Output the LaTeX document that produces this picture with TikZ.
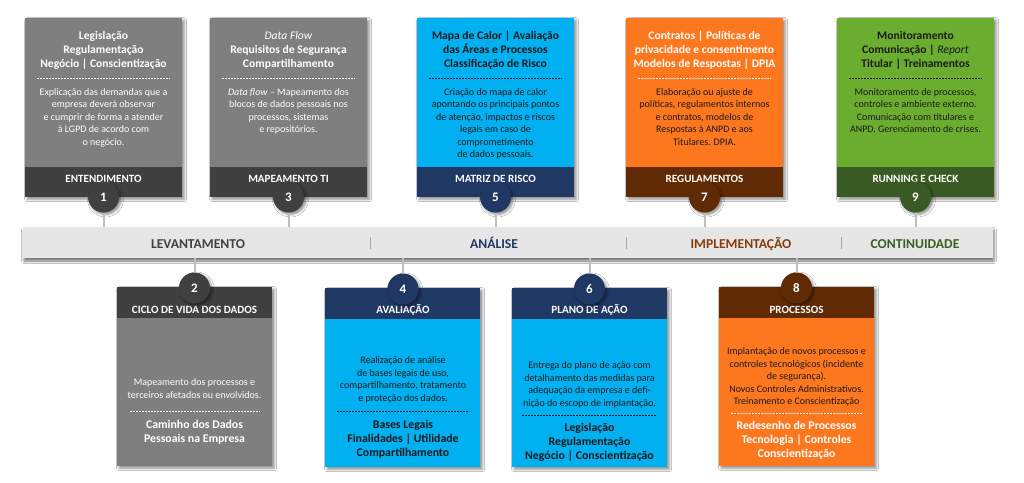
\documentclass[tikz,border=0pt]{standalone}
\usepackage{fontspec}
\setmainfont{Carlito}
\usetikzlibrary{shadows.blur}

\definecolor{greybody}{HTML}{7F7F7F}
\definecolor{greydark}{HTML}{404040}
\definecolor{bluebody}{HTML}{00B0F0}
\definecolor{navy}{HTML}{203864}
\definecolor{orangebody}{HTML}{FD771F}
\definecolor{brown}{HTML}{602A05}
\definecolor{greenbody}{HTML}{6BAD2E}
\definecolor{greendark}{HTML}{395A23}
\definecolor{barfill}{HTML}{E6E6E6}
\definecolor{darktext}{HTML}{1A1A1A}
\definecolor{phasebrown}{HTML}{843C0C}
\definecolor{phasegreen}{HTML}{3B5E24}

\tikzset{
  shade3/.style={blur shadow={shadow xshift=2pt, shadow yshift=-2pt,
      shadow blur radius=2.5pt, shadow opacity=45}},
  topcard/.style={anchor=north west, minimum width=157, minimum height=179,
      inner sep=0, shade3},
  botcard/.style={anchor=north west, minimum width=155, minimum height=179,
      inner sep=0, shade3},
  band/.style={inner sep=0, minimum height=30},
  num/.style={circle, minimum size=31, inner sep=0, text=white,
      font=\fontsize{13}{14}\bfseries, shade3},
  ttl/.style={anchor=north, align=center, inner sep=0,
      font=\fontsize{11.6}{14}\selectfont\bfseries},
  body/.style={anchor=north, align=center, inner sep=0,
      font=\fontsize{10}{12.5}\selectfont},
  btl/.style={anchor=north, align=center, inner sep=0,
      font=\fontsize{11.8}{14}\selectfont\bfseries},
  lbl/.style={anchor=base, inner sep=0, text=white,
      font=\fontsize{11.1}{12}\selectfont\bfseries},
  phase/.style={anchor=base, inner sep=0,
      font=\fontsize{13.6}{15}\selectfont\bfseries},
  sep/.style={line width=0.6pt, dash pattern=on 2pt off 1pt},
  conn/.style={draw=black!25, line width=2pt},
}

\begin{document}
\begin{tikzpicture}[x=1pt, y=-1pt]
\useasboundingbox[fill=white] (0,0) rectangle (1024,482);

% ---------- timeline bar ----------
\node[fill=barfill, minimum width=970, minimum height=31, inner sep=0,
      blur shadow={shadow xshift=1pt, shadow yshift=-3pt, shadow blur radius=2.5pt, shadow opacity=55}]
      (bar) at (508,242.5) {};
\node[phase, text=greydark]  (ph1) at (198,248) {LEVANTAMENTO};
\node[phase, text=navy]      (ph2) at (494,248) {ANÁLISE};
\node[phase, text=phasebrown] (ph3) at (741,248) {IMPLEMENTAÇÃO};
\node[phase, text=phasegreen] (ph4) at (915,248) {CONTINUIDADE};
\draw[black!35, line width=0.6pt] (370,237) -- (370,249);
\draw[black!35, line width=0.6pt] (626,237) -- (626,249);
\draw[black!35, line width=0.6pt] (841,237) -- (841,249);

% ---------- top cards ----------
% 1
\node[topcard, fill=greybody] (c1) at (25,18) {};
\node[band, fill=greydark, minimum width=157, anchor=south] (f1) at (c1.south) {};
\node[ttl, text=white] (t1) at (103.5,31) {Legislação\\Regulamentação\\Negócio | Conscientização};
\draw[sep, white] (37,78) -- (170,78);
\node[body, text=white] (b1) at (103.5,88) {Explicação das demandas que a\\empresa deverá observar\\e cumprir de forma a atender\\à LGPD de acordo com\\o negócio.};
\node[lbl] (l1) at (103.5,182) {ENTENDIMENTO};
\node[num, fill=greydark] (n1) at (103.5,197) {1};

% 3
\node[topcard, fill=greybody] (c3) at (210,18) {};
\node[band, fill=greydark, minimum width=157, anchor=south] (f3) at (c3.south) {};
\node[ttl, text=white] (t3) at (288.5,31) {\textit{\mdseries Data Flow}\\Requisitos de Segurança\\Compartilhamento};
\draw[sep, white] (222,78) -- (355,78);
\node[body, text=white] (b3) at (288.5,88) {\textit{Data flow} – Mapeamento dos\\blocos de dados pessoais nos\\processos, sistemas\\e repositórios.};
\node[lbl] (l3) at (288.5,182) {MAPEAMENTO TI};
\node[num, fill=greydark] (n3) at (288.5,197) {3};

% 5
\node[topcard, fill=bluebody] (c5) at (417,18) {};
\node[band, fill=navy, minimum width=157, anchor=south] (f5) at (c5.south) {};
\node[ttl, text=darktext] (t5) at (495.5,31) {Mapa de Calor | Avaliação\\das Áreas e Processos\\Classificação de Risco};
\draw[sep, darktext] (429,78) -- (562,78);
\node[body, text=darktext] (b5) at (495.5,88) {Criação do mapa de calor\\apontando os principais pontos\\de atenção, impactos e riscos\\legais em caso de\\comprometimento\\de dados pessoais.};
\node[lbl] (l5) at (495.5,182) {MATRIZ DE RISCO};
\node[num, fill=navy] (n5) at (495.5,197) {5};

% 7
\node[topcard, fill=orangebody] (c7) at (626,18) {};
\node[band, fill=brown, minimum width=157, anchor=south] (f7) at (c7.south) {};
\node[ttl, text=white] (t7) at (704.5,31) {Contratos | Políticas de\\privacidade e consentimento\\Modelos de Respostas | DPIA};
\draw[sep, white] (638,78) -- (771,78);
\node[body, text=darktext] (b7) at (704.5,88) {Elaboração ou ajuste de\\políticas, regulamentos internos\\e contratos, modelos de\\Respostas à ANPD e aos\\Titulares. DPIA.};
\node[lbl] (l7) at (704.5,182) {REGULAMENTOS};
\node[num, fill=brown] (n7) at (704.5,197) {7};

% 9
\node[topcard, fill=greenbody] (c9) at (837,18) {};
\node[band, fill=greendark, minimum width=157, anchor=south] (f9) at (c9.south) {};
\node[ttl, text=darktext] (t9) at (915.5,31) {Monitoramento\\Comunicação | \textit{\mdseries Report}\\Titular | Treinamentos};
\draw[sep, darktext] (849,78) -- (982,78);
\node[body, text=darktext] (b9) at (915.5,88) {Monitoramento de processos,\\controles e ambiente externo.\\Comunicação com titulares e\\ANPD. Gerenciamento de crises.};
\node[lbl] (l9) at (915.5,182) {RUNNING E CHECK};
\node[num, fill=greendark] (n9) at (915.5,197) {9};

% ---------- bottom cards ----------
% 2
\node[botcard, fill=greybody] (c2) at (117,287) {};
\node[band, fill=greydark, minimum width=155, minimum height=31, anchor=north] (f2) at (c2.north) {};
\node[lbl] (l2) at (194.5,313) {CICLO DE VIDA DOS DADOS};
\node[body, text=white] (b2) at (194.5,378.5) {Mapeamento dos processos e\\terceiros afetados ou envolvidos.};
\draw[sep, white] (130,411) -- (260,411);
\node[btl, text=white] (t2) at (194.5,420.5) {Caminho dos Dados\\Pessoais na Empresa};
\node[num, fill=greydark] (n2) at (194.5,288) {2};

% 4
\node[botcard, fill=bluebody] (c4) at (325,288) {};
\node[band, fill=navy, minimum width=155, minimum height=31, anchor=north] (f4) at (c4.north) {};
\node[lbl] (l4) at (403,313) {AVALIAÇÃO};
\node[body, text=darktext] (b4) at (403,356.5) {Realização de análise\\de bases legais de uso,\\compartilhamento, tratamento\\e proteção dos dados.};
\draw[sep, darktext] (337,411) -- (469,411);
\node[btl, text=darktext] (t4) at (403,420.5) {Bases Legais\\Finalidades | Utilidade\\Compartilhamento};
\node[num, fill=navy] (n4) at (403,289) {4};

% 6
\node[botcard, fill=bluebody] (c6) at (512,288) {};
\node[band, fill=navy, minimum width=155, minimum height=31, anchor=north] (f6) at (c6.north) {};
\node[lbl] (l6) at (589.5,313) {PLANO DE AÇÃO};
\node[body, text=darktext] (b6) at (589.5,361.5) {Entrega do plano de ação com\\detalhamento das medidas para\\adequação da empresa e defi-\\nição do escopo de implantação.};
\draw[sep, darktext] (522,415) -- (657,415);
\node[btl, text=darktext] (t6) at (589.5,423.5) {Legislação\\Regulamentação\\Negócio | Conscientização};
\node[num, fill=navy] (n6) at (589.5,289) {6};

% 8
\node[botcard, fill=orangebody] (c8) at (719,287) {};
\node[band, fill=brown, minimum width=155, minimum height=31, anchor=north] (f8) at (c8.north) {};
\node[lbl] (l8) at (796.5,313) {PROCESSOS};
\node[body, text=darktext] (b8) at (796.5,347.5) {Implantação de novos processos e\\controles tecnológicos (incidente\\de segurança).\\Novos Controles Administrativos.\\Treinamento e Conscientização};
\draw[sep, white] (731,413) -- (862,413);
\node[btl, text=white] (t8) at (796.5,421.5) {Redesenho de Processos\\Tecnologia | Controles\\Conscientização};
\node[num, fill=brown] (n8) at (796.5,288) {8};

% ---------- connectors between steps and the timeline ----------
\foreach \n in {n1,n3,n5,n7,n9} {
  \draw[conn] (\n.south) -- (\n.south |- bar.north);
}
\foreach \n in {n2,n4,n6,n8} {
  \draw[conn] (\n.north) -- (\n.north |- bar.south);
}
\end{tikzpicture}
\end{document}
